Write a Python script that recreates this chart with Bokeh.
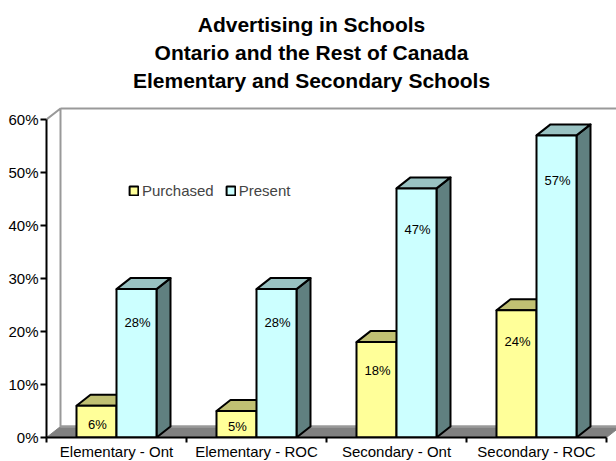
from bokeh.plotting import figure
from bokeh.models import Range1d, FixedTicker, Legend, LegendItem, ColumnDataSource, PrintfTickFormatter
from bokeh.embed import file_html
from bokeh.resources import INLINE
from bokeh.core.properties import value

# ---------------- data ----------------
categories = ["Elementary - Ont", "Elementary - ROC", "Secondary - Ont", "Secondary - ROC"]
purchased = [6, 5, 18, 24]
present = [28, 28, 47, 57]
series_names = ["Purchased", "Present"]
y_ticks = [0, 10, 20, 30, 40, 50, 60]
title_lines = ["Advertising in Schools",
               "Ontario and the Rest of Canada",
               "Elementary and Secondary Schools"]

# ---------------- geometry / style ----------------
FONT = "Liberation Sans"
PX_PER_UNIT = 5.3          # pixels per percentage point
CAT_PX = 140               # pixels per category
FRAME_W, FRAME_H = 570, 437
LEFT = 46
DX = 14 / CAT_PX           # depth offset (x) in data units
DY = 11 / PX_PER_UNIT      # depth offset (y) in data units
BAR_W = 40 / CAT_PX

front_colors = ["#FFFF99", "#CCFFFF"]
top_colors = ["#C0C073", "#99C2C2"]
side_colors = ["#80804D", "#608080"]

p = figure(frame_width=FRAME_W, frame_height=FRAME_H,
           x_range=Range1d(-0.5, -0.5 + FRAME_W / CAT_PX),
           y_range=Range1d(0, FRAME_H / PX_PER_UNIT),
           output_backend="svg", toolbar_location=None,
           min_border_left=LEFT, min_border_right=0, min_border_top=0, min_border_bottom=24)
p.outline_line_color = None
p.grid.visible = False
p.background_fill_color = "white"
p.border_fill_color = "white"

n = len(categories)
ymax = y_ticks[-1]
x_lo, x_hi = -0.5, n - 0.5

# floor
p.patch([x_lo, x_hi, x_hi + DX, x_lo + DX], [0, 0, DY, DY],
        fill_color="#808080", line_color="#808080", line_width=1)
# back wall outline
p.line([x_lo + DX, x_hi + 2 * DX], [DY, DY], line_color="#A0A0A0", line_width=2)
p.line([x_lo, x_lo + DX, x_lo + DX, x_hi + 2 * DX], [ymax, ymax + DY, DY, DY],
       line_color="#999999", line_width=2)
p.line([x_lo + DX, x_hi + 2 * DX], [ymax + DY, ymax + DY], line_color="#999999", line_width=2)

# bars
legend_renderers = []
series = [purchased, present]
for s, vals in enumerate(series):
    x0 = [i - BAR_W + s * BAR_W for i in range(n)]
    x1 = [a + BAR_W for a in x0]
    side_xs = [[b, b + DX, b + DX, b] for b in x1]
    side_ys = [[0, DY, v + DY, v] for v in vals]
    p.patches(side_xs, side_ys, fill_color=side_colors[s], line_color="black",
              line_width=2, line_join="round")
    top_xs = [[a, b, b + DX, a + DX] for a, b in zip(x0, x1)]
    top_ys = [[v, v, v + DY, v + DY] for v in vals]
    p.patches(top_xs, top_ys, fill_color=top_colors[s], line_color="black",
              line_width=2, line_join="round")
    src = ColumnDataSource(dict(left=x0, right=x1, top=vals, bottom=[0] * n))
    r = p.quad(left="left", right="right", top="top", bottom="bottom", source=src,
               fill_color=front_colors[s], line_color="black", line_width=2)
    legend_renderers.append(r)
    # value labels (inside the bar, below its top)
    lab_src = ColumnDataSource(dict(
        x=[(a + b) / 2 + 0.007 for a, b in zip(x0, x1)],
        y=[max(v * 0.92 - 4, v * 0.4) for v in vals],
        t=["%d%%" % v for v in vals]))
    p.text(x="x", y="y", text="t", source=lab_src, text_align="center",
           text_baseline="middle", text_font=value(FONT), text_font_size="13px",
           text_color="black")

# titles
title_x = -0.5 + (311 - LEFT) / CAT_PX
for k, line in enumerate(title_lines):
    y_px = 24 + 28 * k
    p.text(x=[title_x], y=[(FRAME_H - y_px) / PX_PER_UNIT], text=[line],
           text_align="center", text_baseline="middle", text_font=value(FONT),
           text_font_size="21px", text_font_style="bold", text_color="black")

# axes
ya = p.yaxis[0]
ya.ticker = FixedTicker(ticks=y_ticks, minor_ticks=[])
ya.bounds = (0, ymax)
ya.formatter = PrintfTickFormatter(format="%d%%")
ya.axis_line_width = 2
ya.axis_line_color = "black"
ya.major_tick_line_width = 2
ya.major_tick_line_color = "black"
ya.major_tick_out = 6
ya.major_tick_in = 0
ya.minor_tick_out = 0
ya.minor_tick_in = 0
ya.major_label_standoff = 2
ya.major_label_text_font = FONT
ya.major_label_text_font_size = "15px"
ya.major_label_text_color = "black"

xa = p.xaxis[0]
xa.ticker = FixedTicker(ticks=list(range(n)), minor_ticks=[i - 0.5 for i in range(n + 1)])
xa.bounds = (x_lo, x_hi)
xa.major_label_overrides = {i: c for i, c in enumerate(categories)}
xa.axis_line_width = 2
xa.axis_line_color = "black"
xa.major_tick_out = 0
xa.major_tick_in = 0
xa.minor_tick_out = 5
xa.minor_tick_in = 0
xa.minor_tick_line_width = 2
xa.minor_tick_line_color = "black"
xa.major_label_standoff = 0
xa.major_label_text_font = FONT
xa.major_label_text_font_size = "15px"
xa.major_label_text_color = "black"

legend = Legend(items=[LegendItem(label=series_names[i], renderers=[legend_renderers[i]])
                       for i in range(2)],
                orientation="horizontal", location=(82, 238),
                glyph_width=11, glyph_height=11, label_height=11,
                label_text_font=FONT, label_text_font_size="15px",
                label_standoff=3, spacing=11, padding=0, margin=0,
                border_line_color=None, background_fill_alpha=0)
p.add_layout(legend)

open("out.html", "w").write(file_html(p, INLINE))
